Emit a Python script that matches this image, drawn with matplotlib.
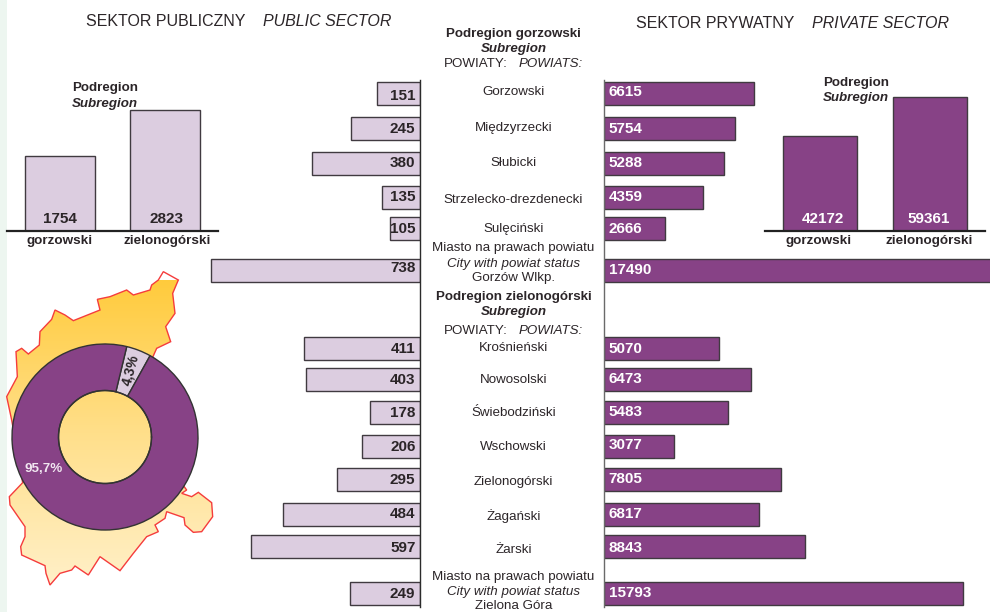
import numpy as np
import matplotlib
matplotlib.use("Agg")
import matplotlib.pyplot as plt
from matplotlib.colors import LinearSegmentedColormap
from matplotlib.patches import Polygon

plt.rcParams['font.family'] = ['Liberation Sans', 'DejaVu Sans']

# values
powiats_top = ["Gorzowski", "Międzyrzecki", "Słubicki", "Strzelecko-drezdenecki", "Sulęciński"]
powiats_bottom = ["Krośnieński", "Nowosolski", "Świebodziński", "Wschowski", "Zielonogórski", "Żagański", "Żarski"]
public_vals = [151, 245, 380, 135, 105, 738, 411, 403, 178, 206, 295, 484, 597, 249]
private_vals = [6615, 5754, 5288, 4359, 2666, 17490, 5070, 6473, 5483, 3077, 7805, 6817, 8843, 15793]
subregions = ["gorzowski", "zielonogórski"]
public_sub = [1754, 2823]
private_sub = [42172, 59361]
shares = [4.3, 95.7]

# layout, all in pixels of the 990x612 picture
W, H = 990, 612
bar_y = [93.5, 128.5, 163.5, 197.5, 228.5, 270, 348.5, 379.5, 412.5, 446.5, 479.5, 514.5, 546.5, 593.5]
pub_label_y = [96, 129, 163, 197, 229, 268, 349, 380, 413, 447, 480, 514, 548, 594]
priv_label_y = [92, 129, 163, 197, 229, 270, 349, 379, 412, 445, 479, 514, 548, 593]
top_label_y = [92, 128, 163, 200, 229]
bottom_label_y = [348, 380, 413, 447, 482, 516, 550]

# map outline, traced at 3x from the crop
map_x = np.array([475, 490, 535, 518, 525, 497, 512, 470, 458, 500, 545, 560, 545, 575, 595, 635, 638, 605, 580, 555,
                  552, 500, 495, 465, 475, 440, 400, 360, 300, 265, 225, 215, 180, 150, 138, 135, 65, 62, 75, 75,
                  30, 28, 68, 35, 20, 52, 48, 65, 85, 118, 120, 155, 165, 195, 220, 300, 292, 330, 380, 400,
                  450, 455]) / 3
map_y = 280 + np.array([0, -25, 0, 40, 100, 140, 185, 205, 232, 400, 610, 630, 640, 650, 637, 668, 710, 755, 757, 735,
                        713, 695, 715, 735, 755, 770, 820, 872, 830, 885, 858, 870, 880, 915, 880, 857, 825, 800, 770, 740,
                        675, 650, 608, 420, 350, 290, 215, 205, 222, 195, 155, 118, 90, 105, 122, 90, 58, 50, 30, 45,
                        30, 15]) / 3

DARK = '#2b2528'
PURPLE = '#874286'
LIGHT = '#dccde0'
EDGE = '#403a40'


def make_ax(fig, x0, y0, x1, y1):
    a = fig.add_axes([x0 / W, 1 - y1 / H, (x1 - x0) / W, (y1 - y0) / H])
    a.axis('off')
    return a


fig = plt.figure(figsize=(9.9, 6.12), dpi=100, facecolor='white')

# background layer in pixels, for the map
bg = make_ax(fig, 0, 0, W, H)
bg.set_xlim(0, W)
bg.set_ylim(H, 0)
bg.axvspan(0, 7, color='#edf6f0', lw=0)

cmap = LinearSegmentedColormap.from_list('map', ['#ffcb3c', '#ffdf8a', '#fff0c8'])
grad = np.linspace(0, 1, 256).reshape(-1, 1)
im = bg.imshow(grad, extent=(0, 230, 585, 280), cmap=cmap, aspect='auto', zorder=1)
outline = Polygon(np.column_stack([map_x, map_y]), closed=True, fc='none', ec='#f53c3c', lw=1, zorder=2)
bg.add_patch(outline)
im.set_clip_path(outline)
bg.set_xlim(0, W)
bg.set_ylim(H, 0)

# public powiats, growing to the left from x=420
ax_pub = make_ax(fig, 0, 0, 420, H)
ax_pub.set_xlim(420 / 0.283, 0)
ax_pub.set_ylim(H, 0)
ax_pub.barh(bar_y, public_vals, height=23, color=LIGHT, edgecolor=EDGE, lw=1)

# private powiats, clipped at the picture edge like the reference
ax_priv = make_ax(fig, 604, 0, W, H)
ax_priv.set_xlim(0, 386 / 0.0227)
ax_priv.set_ylim(H, 0)
ax_priv.barh(bar_y, private_vals, height=23, color=PURPLE, edgecolor=EDGE, lw=1)

# subregion columns, public
ax_c1 = make_ax(fig, 7, 100, 218, 231)
ax_c1.set_xlim(0, 211)
ax_c1.set_ylim(0, 131 / 0.0427)
ax_c1.bar([53, 158], public_sub, width=70, color=LIGHT, edgecolor=EDGE, lw=1)
ax_c1.axhline(0, color='#222222', lw=1.6, clip_on=False)

# subregion columns, private
ax_c2 = make_ax(fig, 765, 90, 985, 231)
ax_c2.set_xlim(0, 220)
ax_c2.set_ylim(0, 141 / 0.00225)
ax_c2.bar([55, 165], private_sub, width=74, color=PURPLE, edgecolor=EDGE, lw=1)
ax_c2.axhline(0, color='#222222', lw=1.6, clip_on=False)

# donut
ax_d = make_ax(fig, 105 - 95, 437 - 95, 105 + 95, 437 + 95)
ax_d.pie(shares, colors=[LIGHT, PURPLE], radius=93, startangle=90 - 29, counterclock=True,
         wedgeprops=dict(width=46.5, edgecolor='#333333', lw=1))
ax_d.set_aspect('equal')
ax_d.set_xlim(-95, 95)
ax_d.set_ylim(-95, 95)
inner = np.linspace(0, 2 * np.pi, 200)
ax_d.plot(46.5 * np.cos(inner), 46.5 * np.sin(inner), color='#333333', lw=1)

# top layer in pixels, all texts and the two axis lines
fg = make_ax(fig, 0, 0, W, H)
fg.set_xlim(0, W)
fg.set_ylim(H, 0)
fg.plot([420, 420], [80, 607], color='#2b2b2b', lw=1)
fg.plot([604, 604], [80, 607], color='#6a6a6a', lw=1)


def txt(x, y, s, size=9.6, ha='center', color=DARK, **kw):
    fg.text(x, y, s, fontsize=size, ha=ha, va='center', color=color, **kw)


txt(86, 21, "SEKTOR PUBLICZNY", 11.55, ha='left')
txt(263, 21, "PUBLIC SECTOR", 11.55, ha='left', style='italic')
txt(636, 23, "SEKTOR PRYWATNY", 11.55, ha='left')
txt(812, 23, "PRIVATE SECTOR", 11.55, ha='left', style='italic')

txt(513.5, 34, "Podregion gorzowski", weight='bold')
txt(513.5, 49, "Subregion", weight='bold', style='italic')
txt(444, 64, "POWIATY:", ha='left')
txt(519, 64, "POWIATS:", ha='left', style='italic')
for name, y in zip(powiats_top, top_label_y):
    txt(513.5, y, name)
txt(513.5, 248, "Miasto na prawach powiatu")
txt(513.5, 264, "City with powiat status", style='italic')
txt(513.5, 278, "Gorzów Wlkp.")
txt(513.5, 297, "Podregion zielonogórski", weight='bold')
txt(513.5, 312, "Subregion", weight='bold', style='italic')
txt(444, 331, "POWIATY:", ha='left')
txt(519, 331, "POWIATS:", ha='left', style='italic')
for name, y in zip(powiats_bottom, bottom_label_y):
    txt(513.5, y, name)
txt(513.5, 577, "Miasto na prawach powiatu")
txt(513.5, 592, "City with powiat status", style='italic')
txt(513.5, 606, "Zielona Góra")

for v, y in zip(public_vals, pub_label_y):
    txt(415.5, y, str(v), 11, ha='right', weight='bold')
for v, y in zip(private_vals, priv_label_y):
    txt(608.5, y, str(v), 11, ha='left', weight='bold', color='white')

for x, v, s in zip([60, 167], public_sub, subregions):
    txt(x, 219, str(v), 11, weight='bold')
    txt(x, 241, s, 9.7, weight='bold')
txt(72, 88, "Podregion", weight='bold', ha='left')
txt(72, 104, "Subregion", weight='bold', style='italic', ha='left')

for x, y2, v, s in zip([823, 929], [819, 929], private_sub, subregions):
    txt(x, 219, str(v), 11, weight='bold', color='white')
    txt(y2, 241, s, 9.7, weight='bold')
txt(823, 83, "Podregion", weight='bold', ha='left')
txt(823, 98, "Subregion", weight='bold', style='italic', ha='left')

txt(131, 370, "4,3%", 10, rotation=75, weight='bold')
txt(44, 469, "95,7%", 9.6, weight='bold', color='#f0e6f0')

fig.savefig("out.png", dpi=100)
